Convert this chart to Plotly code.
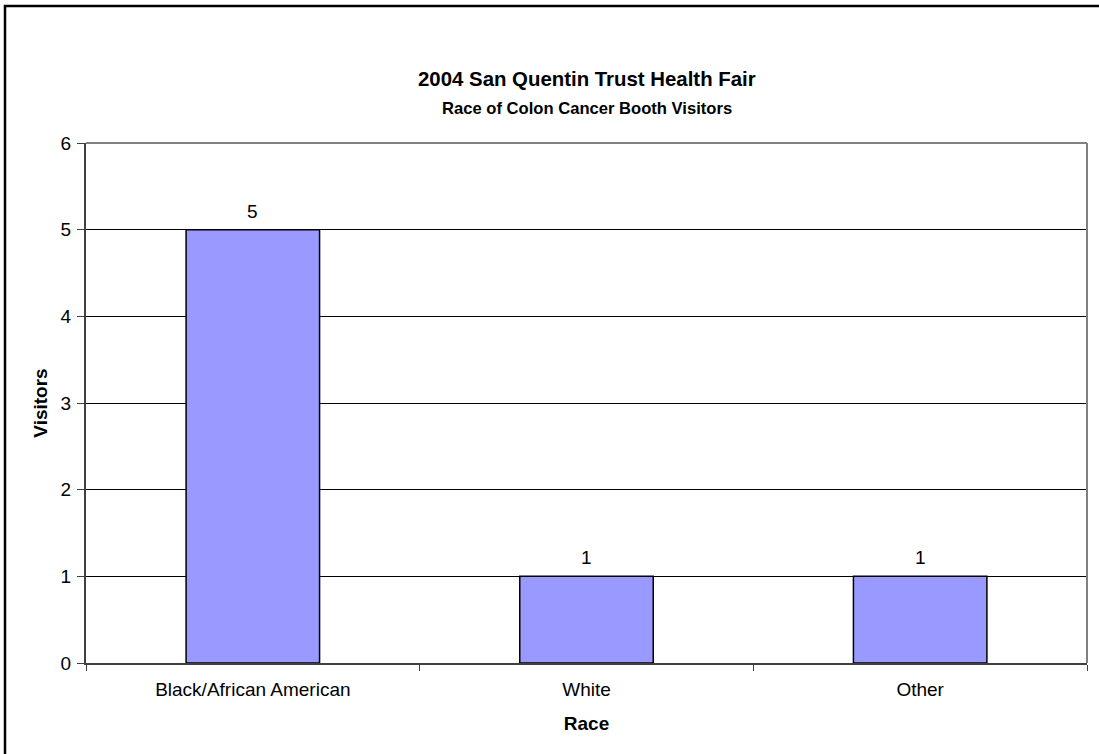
import plotly.graph_objects as go

categories = ["Black/African American", "White", "Other"]
visitors = [5, 1, 1]
y_ticks = [0, 1, 2, 3, 4, 5, 6]

W, H = 1099, 754
L, R, T, B = 86, 12, 143, 91
pw, ph = W - L - R, H - T - B
FONT = "Liberation Sans, Arial"

def px_x(p):
    return (p - L) / pw

def px_y(p):
    return (H - B - p) / ph

fig = go.Figure(go.Bar(
    x=categories, y=visitors,
    marker=dict(color="#9999FF", line=dict(color="black", width=1.5)),
))

annotations = [
    dict(text="<b>2004 San Quentin Trust Health Fair</b>", x=0.5, xref="paper",
         y=px_y(79), yref="paper", showarrow=False, font=dict(size=20.4), yanchor="middle"),
    dict(text="<b>Race of Colon Cancer Booth Visitors</b>", x=0.5, xref="paper",
         y=px_y(108), yref="paper", showarrow=False, font=dict(size=16.6), yanchor="middle"),
]
for c, v in zip(categories, visitors):
    annotations.append(dict(text=str(v), x=c, y=v, xref="x", yref="y", showarrow=False,
                            yanchor="bottom", yshift=6, font=dict(size=19)))

fig.update_layout(
    width=W, height=H,
    margin=dict(l=L, r=R, t=T, b=B),
    paper_bgcolor="white", plot_bgcolor="white",
    bargap=0.6,
    showlegend=False,
    font=dict(family=FONT, color="black"),
    annotations=annotations,
    shapes=[
        dict(type="rect", xref="paper", yref="paper", x0=px_x(5), x1=px_x(1110),
             y0=px_y(765), y1=px_y(6), line=dict(color="black", width=2.5), layer="below"),
        dict(type="line", xref="paper", yref="paper", x0=0, x1=1, y0=1, y1=1,
             line=dict(color="#808080", width=2), layer="above"),
        dict(type="line", xref="paper", yref="paper", x0=1, x1=1, y0=0, y1=1,
             line=dict(color="#808080", width=2), layer="above"),
    ],
)

fig.update_xaxes(
    type="category", showgrid=False, showline=True, linecolor="#404040", linewidth=2,
    ticks="outside", tickson="boundaries", ticklen=6, tickcolor="#404040",
    tickfont=dict(size=19), ticklabelstandoff=8,
    title=dict(text="<b>Race</b>", font=dict(size=19), standoff=18),
)
fig.update_yaxes(
    range=[0, 6], tickvals=y_ticks, showgrid=True, gridcolor="black", gridwidth=1,
    showline=True, linecolor="#404040", linewidth=2, zeroline=False,
    ticks="outside", ticklen=7, tickcolor="#404040",
    tickfont=dict(size=19), ticklabelstandoff=2,
    title=dict(text="<b>Visitors</b>", font=dict(size=19), standoff=8),
)

fig.write_html("out.html")
